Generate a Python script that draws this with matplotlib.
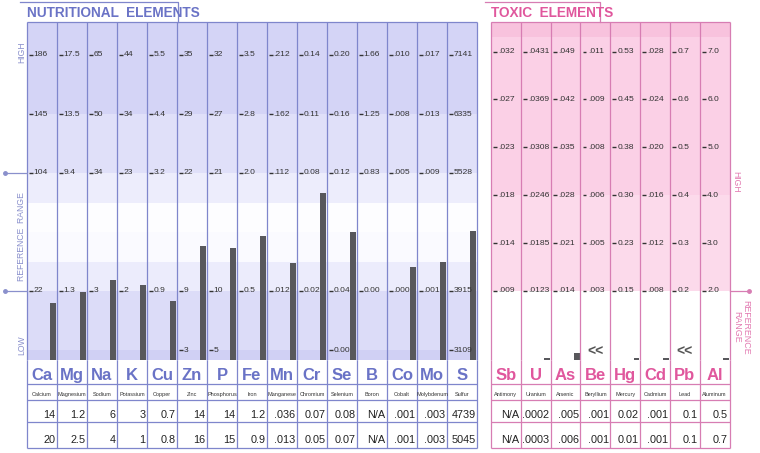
import matplotlib
matplotlib.use('Agg')
import matplotlib.pyplot as plt
from matplotlib import font_manager
import matplotlib.transforms as mtransforms

# ---------------- data ----------------
nut_symbols = ['Ca', 'Mg', 'Na', 'K', 'Cu', 'Zn', 'P', 'Fe', 'Mn', 'Cr', 'Se', 'B', 'Co', 'Mo', 'S']
nut_names = ['Calcium', 'Magnesium', 'Sodium', 'Potassium', 'Copper', 'Zinc', 'Phosphorus', 'Iron',
             'Manganese', 'Chromium', 'Selenium', 'Boron', 'Cobalt', 'Molybdenum', 'Sulfur']
nut_tick_top = ['186', '17.5', '65', '44', '5.5', '35', '32', '3.5', '.212', '0.14', '0.20', '1.66', '.010', '.017', '7141']
nut_tick_mid = ['145', '13.5', '50', '34', '4.4', '29', '27', '2.8', '.162', '0.11', '0.16', '1.25', '.008', '.013', '6335']
nut_ref_high = ['104', '9.4', '34', '23', '3.2', '22', '21', '2.0', '.112', '0.08', '0.12', '0.83', '.005', '.009', '5528']
nut_ref_low = ['22', '1.3', '3', '2', '0.9', '9', '10', '0.5', '.012', '0.02', '0.04', '0.00', '.000', '.001', '3915']
nut_tick_bottom = ['', '', '', '', '', '3', '5', '', '', '', '0.00', '', '', '', '3109']
nut_result_1 = ['14', '1.2', '6', '3', '0.7', '14', '14', '1.2', '.036', '0.07', '0.08', 'N/A', '.001', '.003', '4739']
nut_result_2 = ['20', '2.5', '4', '1', '0.8', '16', '15', '0.9', '.013', '0.05', '0.07', 'N/A', '.001', '.003', '5045']

tox_symbols = ['Sb', 'U', 'As', 'Be', 'Hg', 'Cd', 'Pb', 'Al']
tox_names = ['Antimony', 'Uranium', 'Arsenic', 'Beryllium', 'Mercury', 'Cadmium', 'Lead', 'Aluminum']
tox_tick_5 = ['.032', '.0431', '.049', '.011', '0.53', '.028', '0.7', '7.0']
tox_tick_4 = ['.027', '.0369', '.042', '.009', '0.45', '.024', '0.6', '6.0']
tox_tick_3 = ['.023', '.0308', '.035', '.008', '0.38', '.020', '0.5', '5.0']
tox_tick_2 = ['.018', '.0246', '.028', '.006', '0.30', '.016', '0.4', '4.0']
tox_tick_1 = ['.014', '.0185', '.021', '.005', '0.23', '.012', '0.3', '3.0']
tox_tick_0 = ['.009', '.0123', '.014', '.003', '0.15', '.008', '0.2', '2.0']
tox_result_1 = ['N/A', '.0002', '.005', '.001', '0.02', '.001', '0.1', '0.5']
tox_result_2 = ['N/A', '.0003', '.006', '.001', '0.01', '.001', '0.1', '0.7']
tox_below_limit = [False, False, False, True, False, False, True, False]

# ---------------- fonts ----------------
avail = {f.name for f in font_manager.fontManager.ttflist}
BASE = 'Liberation Sans' if 'Liberation Sans' in avail else 'DejaVu Sans'
NARROW = 'Liberation Sans Narrow' if 'Liberation Sans Narrow' in avail else BASE
plt.rcParams['font.family'] = [BASE, 'DejaVu Sans']

# ---------------- colours ----------------
N_LINE = '#7f86cc'
N_TEXT = '#6a73c6'
N_SIDE = '#8a90cc'
T_LINE = '#d77db3'
T_TEXT = '#e0579d'
BAR = '#58585c'
TICK = '#333333'

W, H = 760, 453
fig = plt.figure(figsize=(W / 100, H / 100), dpi=100)


def px_axes(x0, y0, x1, y1, z=1):
    a = fig.add_axes([x0 / W, 1 - y1 / H, (x1 - x0) / W, (y1 - y0) / H], zorder=z)
    a.axis('off')
    return a


# ======== nutritional chart ========
NX0, NX1, TOP, BOT, REF0 = 27, 477, 22, 360, 291
NSTEP = 118.0
axn = px_axes(NX0, TOP, NX1, BOT)
nn = len(nut_symbols)
axn.set_xlim(0, nn)
n_lo, n_hi = -(BOT - REF0) / NSTEP, (REF0 - TOP) / NSTEP
axn.set_ylim(n_lo, n_hi)

bands = [(1.5, n_hi, '#d4d4f6'), (1.0, 1.5, '#e0e0f9'), (0.75, 1.0, '#ededfc'),
         (0.5, 0.75, '#fdfdff'), (0.25, 0.5, '#fafaff'), (0.0, 0.25, '#ececfc'),
         (-0.5, 0.0, '#dcdcf8'), (n_lo, -0.5, '#d0d0f4')]
for a, b, c in bands:
    axn.axhspan(a, b, color=c, lw=0, zorder=0)

levels_n = [(2.0, nut_tick_top), (1.5, nut_tick_mid), (1.0, nut_ref_high),
            (0.0, nut_ref_low), (-0.5, nut_tick_bottom)]
for i in range(nn):
    for lev, labs in levels_n:
        if labs[i]:
            axn.hlines(lev, i + 0.06, i + 0.19, color=TICK, lw=1.0, zorder=4)
            axn.text(i + 0.22, lev, labs[i], fontsize=6.1, color=TICK, va='center', ha='left', zorder=4)
    if nut_result_1[i] != 'N/A':
        lo, hi = float(nut_ref_low[i]), float(nut_ref_high[i])
        norm = (float(nut_result_1[i]) - lo) / (hi - lo)
        axn.bar(i + 0.78, norm - n_lo, bottom=n_lo, width=0.2, align='edge', color=BAR, lw=0, zorder=2)

axn.vlines(range(nn + 1), n_lo, n_hi, color=N_LINE, lw=0.9, zorder=3, clip_on=False)
axn.hlines(n_hi, 0, nn, color=N_LINE, lw=0.9, zorder=3, clip_on=False)

# nutritional table
axnt = px_axes(NX0, BOT, NX1, 448)
axnt.set_xlim(0, nn)
axnt.set_ylim(88, 0)
axnt.vlines(range(nn + 1), 0, 88, color=N_LINE, lw=0.9, clip_on=False)
axnt.hlines([24, 40, 62, 88], 0, nn, color=N_LINE, lw=0.9, clip_on=False)
for i in range(nn):
    axnt.text(i + 0.5, 15.5, nut_symbols[i], fontsize=12, family=[NARROW, BASE], color=N_TEXT,
              ha='center', va='center', fontweight='bold')
    axnt.text(i + 0.5, 34.5, nut_names[i], fontsize=4.0, color='#333333', ha='center', va='center')
    axnt.text(i + 0.95, 55.5, nut_result_1[i], fontsize=7.8, color='#222222', ha='right', va='center')
    axnt.text(i + 0.95, 80, nut_result_2[i], fontsize=7.8, color='#222222', ha='right', va='center')

# ======== toxic chart ========
TX0, TX1 = 491, 729.5
TSTEP = 47.9
axt = px_axes(TX0, TOP, TX1, BOT)
nt = len(tox_symbols)
axt.set_xlim(0, nt)
t_lo, t_hi = -(BOT - REF0) / TSTEP, (REF0 - TOP) / TSTEP
axt.set_ylim(t_lo, t_hi)
tbands = [(5.3, t_hi, '#f8c2dd'), (2.0, 5.3, '#fbd0e6'), (0.0, 2.0, '#fcdaeb'), (t_lo, 0.0, '#ffffff')]
for a, b, c in tbands:
    axt.axhspan(a, b, color=c, lw=0, zorder=0)

tox_levels = [tox_tick_0, tox_tick_1, tox_tick_2, tox_tick_3, tox_tick_4, tox_tick_5]
for i in range(nt):
    for lev, labs in enumerate(tox_levels):
        axt.hlines(lev, i + 0.07, i + 0.2, color=TICK, lw=1.0, zorder=4)
        axt.text(i + 0.25, lev, labs[i], fontsize=6.1, color=TICK, va='center', ha='left', zorder=4)
    if tox_below_limit[i]:
        tr = mtransforms.blended_transform_factory(axt.transData, axt.transAxes)
        axt.text(i + 0.5, 0.024, '<<', transform=tr, fontsize=10, color='#555555',
                 ha='center', va='center', fontweight='bold', zorder=4)
    elif tox_result_1[i] != 'N/A':
        lo, top = float(tox_tick_0[i]), float(tox_tick_5[i])
        t = (float(tox_result_1[i]) - lo) / ((top - lo) / 5)
        h = max(t - t_lo, 1.6 / TSTEP)
        axt.bar(i + 0.78, h, bottom=t_lo, width=0.2, align='edge', color=BAR, lw=0, zorder=2)

axt.vlines(range(nt + 1), t_lo, t_hi, color=T_LINE, lw=0.9, zorder=3, clip_on=False)
axt.hlines(t_hi, 0, nt, color=T_LINE, lw=0.9, zorder=3, clip_on=False)

axtt = px_axes(TX0, BOT, TX1, 448)
axtt.set_xlim(0, nt)
axtt.set_ylim(88, 0)
axtt.vlines(range(nt + 1), 0, 88, color=T_LINE, lw=0.9, clip_on=False)
axtt.hlines([24, 40, 62, 88], 0, nt, color=T_LINE, lw=0.9, clip_on=False)
for i in range(nt):
    axtt.text(i + 0.5, 15.5, tox_symbols[i], fontsize=12, family=[NARROW, BASE], color=T_TEXT,
              ha='center', va='center', fontweight='bold')
    axtt.text(i + 0.5, 34.5, tox_names[i], fontsize=4.0, color='#333333', ha='center', va='center')
    axtt.text(i + 0.95, 55.5, tox_result_1[i], fontsize=7.8, color='#222222', ha='right', va='center')
    axtt.text(i + 0.95, 80, tox_result_2[i], fontsize=7.8, color='#222222', ha='right', va='center')

# ======== overlay: titles, side labels, markers ========
ov = px_axes(0, 0, W, H, z=5)
ov.set_xlim(0, W)
ov.set_ylim(H, 0)
ov.patch.set_alpha(0)

ov.text(27, 13, 'NUTRITIONAL  ELEMENTS', fontsize=9.8, family=[NARROW, BASE], fontweight='bold',
        color=N_TEXT, ha='left', va='center')
ov.plot([20, 178, 178], [2, 2, 22], color=N_LINE, lw=0.9)
ov.text(491, 13, 'TOXIC  ELEMENTS', fontsize=9.8, family=[NARROW, BASE], fontweight='bold',
        color=T_TEXT, ha='left', va='center')
ov.plot([485, 600, 600], [2, 2, 22], color=T_LINE, lw=0.9)

ov.text(22, 52, 'HIGH', rotation=90, fontsize=6.2, color=N_SIDE, ha='center', va='center')
ov.text(22, 237, 'REFERENCE  RANGE', rotation=90, fontsize=6.2, color=N_SIDE, ha='center', va='center')
ov.text(22, 345, 'LOW', rotation=90, fontsize=6.2, color=N_SIDE, ha='center', va='center')
for yy in (173, 291):
    ov.plot([5, 27], [yy, yy], color=N_SIDE, lw=0.9)
    ov.plot([5], [yy], 'o', color=N_SIDE, ms=2.5)

ov.text(736, 182, 'HIGH', rotation=270, fontsize=6.2, color='#e27ab1', ha='center', va='center')
ov.text(741, 327, 'REFERENCE\nRANGE', rotation=270, fontsize=6.4, color='#e27ab1', ha='center', va='center',
        multialignment='center', linespacing=1.0)
ov.plot([729.5, 749], [291, 291], color='#d77db3', lw=0.9)
ov.plot([749], [291], 'o', color='#d77db3', ms=2.5)

fig.savefig('out.png', dpi=100, facecolor='white')
